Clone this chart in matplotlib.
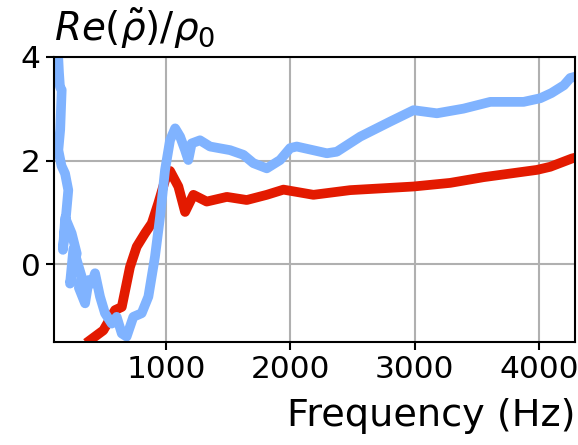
import matplotlib
matplotlib.use("Agg")
import matplotlib.pyplot as plt

# Real part of normalised effective density, two samples
freq_red = [390, 497, 591, 645, 711, 765, 832, 886, 939, 993, 1033, 1100, 1154,
            1221, 1328, 1490, 1650, 1811, 1945, 2186, 2481, 2990, 3286, 3554,
            3983, 4090, 4265, 4300]
re_red = [-1.46, -1.27, -0.88, -0.82, -0.05, 0.34, 0.60, 0.79, 1.18, 1.62, 1.80,
          1.50, 1.01, 1.34, 1.21, 1.30, 1.24, 1.34, 1.44, 1.34, 1.43, 1.50, 1.57,
          1.68, 1.82, 1.88, 2.04, 2.06]

freq_blue = [110, 135, 140, 148, 162, 150, 135, 160, 189, 215, 172, 190, 242,
             283, 229, 256, 323, 300, 350, 380, 403, 430, 470, 510, 564, 604,
             645, 684, 738, 805, 859, 912, 953, 993, 1033, 1074, 1114, 1154,
             1180, 1207, 1274, 1355, 1516, 1623, 1703, 1811, 1918, 1999, 2052,
             2294, 2374, 2562, 2803, 2991, 3179, 3393, 3608, 3876, 4010, 4100,
             4200, 4251, 4300]
re_blue = [4.6, 3.94, 3.7, 3.42, 3.36, 2.6, 2.2, 1.9, 1.75, 1.43, 0.28, 0.9,
           0.60, 0.21, -0.37, 0.30, -0.24, -0.45, -0.75, -0.30, -0.37, -0.17,
           -0.62, -0.94, -1.14, -1.01, -1.33, -1.39, -1.01, -0.94, -0.62, 0.15,
           0.92, 1.82, 2.39, 2.62, 2.46, 2.20, 2.01, 2.33, 2.39, 2.27, 2.20,
           2.11, 1.95, 1.85, 2.01, 2.24, 2.27, 2.14, 2.17, 2.46, 2.75, 2.97,
           2.91, 3.00, 3.13, 3.13, 3.20, 3.30, 3.45, 3.59, 3.62]

xticks = [1000, 2000, 3000, 4000]
yticks = [0, 2, 4]

fig = plt.figure(figsize=(5.78, 4.45), dpi=100)
ax = fig.add_axes([0.0934, 0.2308, 0.9016, 0.6418])

ax.plot(freq_red, re_red, color="#e31a00", lw=7, solid_joinstyle="round")
ax.plot(freq_blue, re_blue, color="#80b3ff", lw=7, solid_joinstyle="round")

ax.set_xlim(100, 4290)
ax.set_ylim(-1.5, 4)
ax.set_xticks(xticks)
ax.set_yticks(yticks)
ax.tick_params(labelsize=22.5, width=1.5, length=6)
ax.grid(color="#b0b0b0", lw=1.5)
ax.set_axisbelow(True)
for s in ax.spines.values():
    s.set_linewidth(1.5)

ax.set_xlabel("Frequency (Hz)", fontsize=27.5, loc="right", labelpad=10)
ax.set_title(r"$Re(\tilde{\rho})/\rho_0$", fontsize=28, loc="left", pad=11)

fig.savefig("out.png", dpi=100)
